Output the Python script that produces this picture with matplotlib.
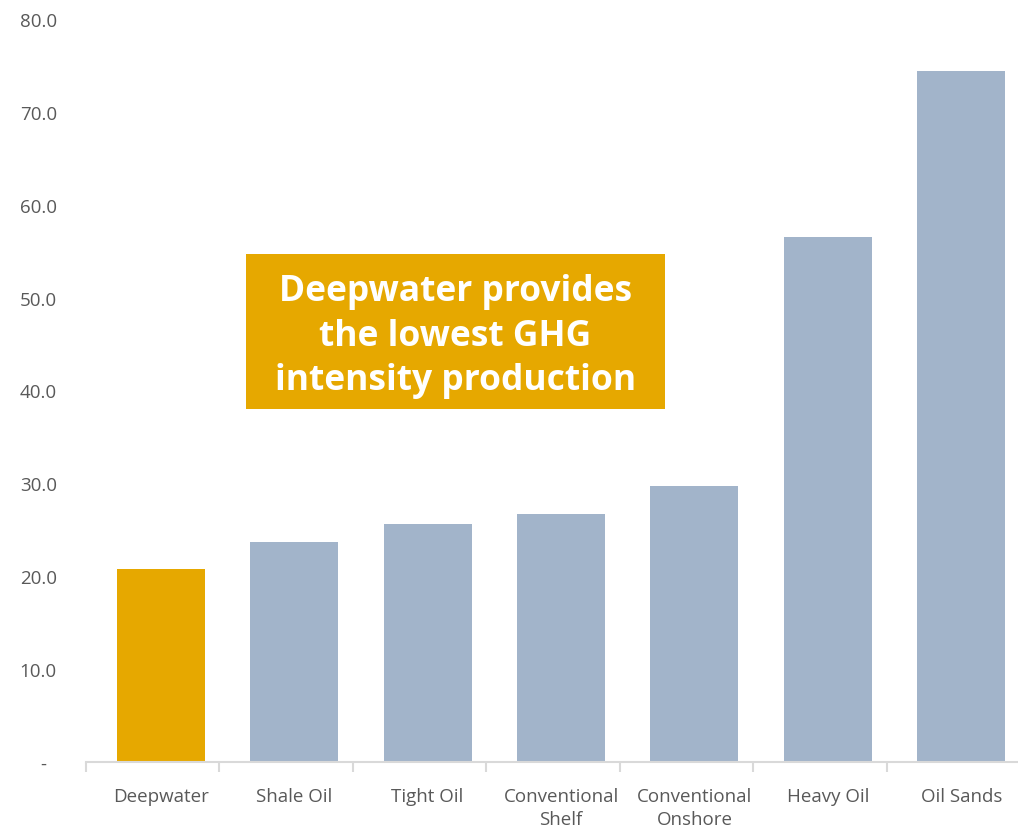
import matplotlib.pyplot as plt
from matplotlib.patches import Rectangle
from matplotlib.ticker import FixedLocator

plt.rcParams['font.family'] = ['Open Sans', 'DejaVu Sans']

categories = ["Deepwater", "Shale Oil", "Tight Oil", "Conventional\nShelf",
              "Conventional\nOnshore", "Heavy Oil", "Oil Sands"]
values = [20.8, 23.7, 25.6, 26.7, 29.7, 56.5, 74.4]
highlight = "Deepwater"
y_ticks = [0, 10, 20, 30, 40, 50, 60, 70, 80]
y_tick_labels = ["-  ", "10.0", "20.0", "30.0", "40.0", "50.0", "60.0", "70.0", "80.0"]
callout = "Deepwater provides\nthe lowest GHG\nintensity production"

GOLD = "#E6A800"
BLUE = "#A2B4CA"
TEXT = "#595959"
AXIS = "#D9D9D9"

W, H = 1018, 829
fig = plt.figure(figsize=(W / 100, H / 100), dpi=100)
ax = fig.add_axes([86 / W, 66.3 / H, 934 / W, 742.4 / H])

x = list(range(len(categories)))
colors = [GOLD if c == highlight else BLUE for c in categories]
ax.bar(x, values, width=0.66, color=colors, zorder=2)

ax.set_xlim(-0.56, len(categories) - 0.56)
ax.set_ylim(0, 80)

for side in ("top", "right", "left"):
    ax.spines[side].set_visible(False)
ax.spines["bottom"].set_color(AXIS)
ax.spines["bottom"].set_linewidth(1.5)

ax.set_yticks(y_ticks)
ax.set_yticklabels(y_tick_labels)
ax.tick_params(axis="y", length=0, pad=21, labelsize=13.5, labelcolor=TEXT)

ax.set_xticks(x)
ax.set_xticklabels(categories)
ax.tick_params(axis="x", which="major", length=0, pad=18, labelsize=13.5, labelcolor=TEXT)
ax.xaxis.set_minor_locator(FixedLocator([i - 0.56 for i in range(len(categories) + 1)]))
ax.tick_params(axis="x", which="minor", length=7, width=1.5, color=AXIS, direction="out")
for lbl in ax.get_xticklabels():
    lbl.set_linespacing(1.35)

# callout box
bx0, by0, bx1, by1 = 246, 255, 665, 410
fig.patches.append(Rectangle((bx0 / W, 1 - by1 / H), (bx1 - bx0) / W, (by1 - by0) / H,
                             transform=fig.transFigure, facecolor=GOLD,
                             edgecolor="none", zorder=3))
fig.text((bx0 + bx1) / 2 / W, 1 - (by0 + by1 + 8) / 2 / H, callout,
         ha="center", va="center", color="white", fontsize=25.5,
         fontweight="bold", linespacing=1.3, zorder=4)

fig.savefig("out.png", dpi=100)
